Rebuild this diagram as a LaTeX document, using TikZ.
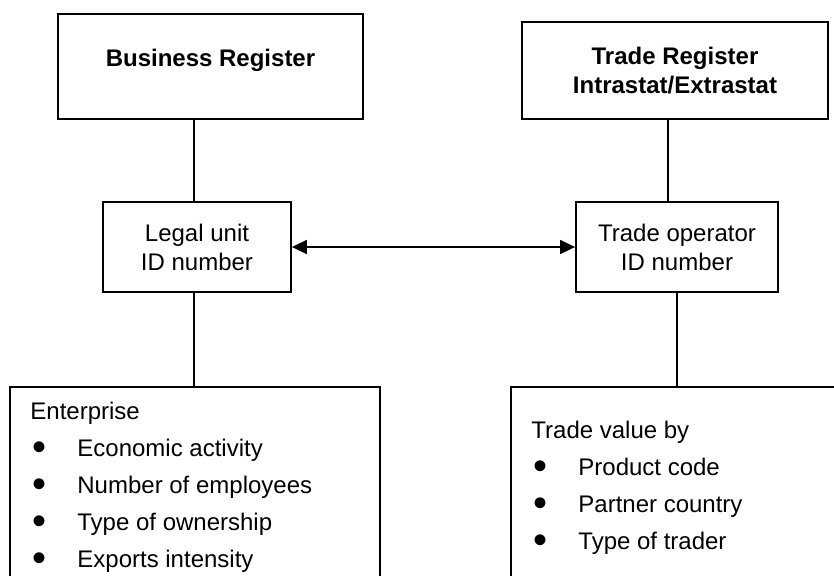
\documentclass[tikz,border=0pt]{standalone}
\usepackage{fontspec}
\setmainfont{Liberation Sans}
\usetikzlibrary{arrows.meta}

% big round bullet for the lists
\newcommand{\itembullet}{\makebox[23.5pt][l]{\hspace{1pt}\smash{\raisebox{-2pt}{\fontsize{20}{20}\selectfont\textbullet}}}}

\begin{document}
\begin{tikzpicture}[x=0.5pt, y=-0.5pt,
    regbox/.style={draw, line width=0.9pt, align=center, inner sep=0pt,
                   font=\fontsize{12}{14.5}\selectfont},
    listbox/.style={draw, line width=0.9pt, inner sep=0pt, anchor=north west},
    listtext/.style={align=left, inner sep=0pt, anchor=north west,
                     font=\fontsize{12}{18.5}\selectfont},
    link/.style={line width=0.9pt}]
    \useasboundingbox (0,0) rectangle (834,575);
    \clip (0,0) rectangle (834,575);

    % Registers
    \node[regbox, minimum width=152.5pt, minimum height=52.5pt, text depth=8.6pt] (br) at (210.5,66.5) {\textbf{Business Register}};
    \node[regbox, minimum width=153pt, minimum height=48.5pt] (tr) at (675,70.5) {\textbf{Trade Register}\\\textbf{Intrastat/Extrastat}};

    % ID numbers
    \node[regbox, minimum width=94pt, minimum height=45pt] (lu) at (197,247) {Legal unit\\ID number};
    \node[regbox, minimum width=101pt, minimum height=45pt] (to) at (677,247) {Trade operator\\ID number};

    % Variables
    \node[listbox, minimum width=185pt, minimum height=110pt] (ent) at (9,386) {};
    \node[listtext] (entlist) at (30,402) {Enterprise\\
        \itembullet Economic activity\\
        \itembullet Number of employees\\
        \itembullet Type of ownership\\
        \itembullet Exports intensity};
    \node[listbox, minimum width=175pt, minimum height=110pt] (tv) at (510,386) {};
    \node[listtext] (tvlist) at (531,421) {Trade value by\\
        \itembullet Product code\\
        \itembullet Partner country\\
        \itembullet Type of trader};

    % Links
    \draw[link] ([xshift=-1.5pt]lu.north) -- ([xshift=-1.5pt]lu.north |- br.south);
    \draw[link] ([xshift=-1.5pt]lu.south) -- ([xshift=-1.5pt]lu.south |- ent.north);
    \draw[link] ([xshift=-4.5pt]to.north) -- ([xshift=-4.5pt]to.north |- tr.south);
    \draw[link] (to.south) -- (to.south |- tv.north);
    \draw[link, {Triangle[length=7.5pt, width=7pt]}-{Triangle[length=7.5pt, width=7pt]}] (lu.east) -- (to.west);
\end{tikzpicture}
\end{document}
